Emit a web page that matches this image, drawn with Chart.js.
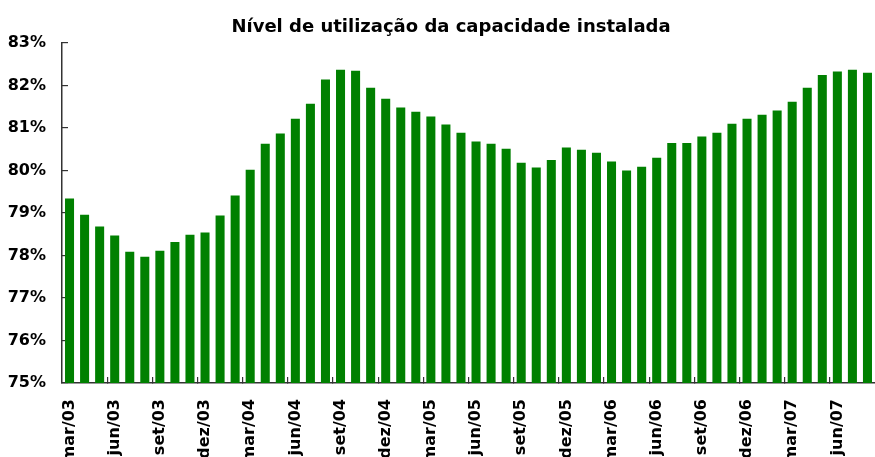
<!DOCTYPE html>
<html>
<head>
<meta charset="utf-8">
<title>Nível de utilização da capacidade instalada</title>
<script src="https://cdn.jsdelivr.net/npm/chart.js@4.4.1/dist/chart.umd.min.js"></script>
<style>
  html, body { margin: 0; padding: 0; background: #fff; }
  canvas { display: block; }
</style>
</head>
<body>
<canvas id="nuciChart" width="875" height="457"></canvas>
<script>
// months shown on the x axis (mar/03 .. ago/07)
const months = [
  'mar/03', 'abr/03', 'mai/03', 'jun/03', 'jul/03', 'ago/03', 'set/03', 'out/03', 'nov/03', 'dez/03',
  'jan/04', 'fev/04', 'mar/04', 'abr/04', 'mai/04', 'jun/04', 'jul/04', 'ago/04', 'set/04', 'out/04', 'nov/04', 'dez/04',
  'jan/05', 'fev/05', 'mar/05', 'abr/05', 'mai/05', 'jun/05', 'jul/05', 'ago/05', 'set/05', 'out/05', 'nov/05', 'dez/05',
  'jan/06', 'fev/06', 'mar/06', 'abr/06', 'mai/06', 'jun/06', 'jul/06', 'ago/06', 'set/06', 'out/06', 'nov/06', 'dez/06',
  'jan/07', 'fev/07', 'mar/07', 'abr/07', 'mai/07', 'jun/07', 'jul/07', 'ago/07',
];

// capacity utilisation, %
const utilizacao = [
  79.34, 78.96, 78.68, 78.47, 78.09, 77.97, 78.11, 78.32, 78.49, 78.54,
  78.94, 79.41, 80.02, 80.63, 80.87, 81.22, 81.57, 82.14, 82.37, 82.35,
  81.95, 81.69, 81.48, 81.38, 81.27, 81.08, 80.89, 80.68, 80.63, 80.51,
  80.18, 80.07, 80.25, 80.54, 80.49, 80.42, 80.21, 80.00, 80.09, 80.30,
  80.65, 80.65, 80.80, 80.89, 81.10, 81.22, 81.31, 81.41, 81.62, 81.95,
  82.25, 82.33, 82.37, 82.30,
];

const yMin = 75;
const yMax = 83;
const labelEvery = 3;

// the original text is wide for its height; DejaVu Sans Bold fits its extent best
const FONT = "'DejaVu Sans', 'Liberation Sans', Arial, sans-serif";
const AXIS = '#333333';

// title is centred a bit right of the canvas middle in the original
const shiftTitle = {
  id: 'shiftTitle',
  afterLayout(chart) {
    if (chart.titleBlock) chart.titleBlock.left = 27;
  },
};

// eslint-disable-next-line no-undef
new Chart(document.getElementById('nuciChart'), {
  type: 'bar',
  data: {
    labels: months,
    datasets: [
      {
        label: 'Utilização (%)',
        data: utilizacao,
        backgroundColor: '#008000',
        borderWidth: 0,
        barPercentage: 0.6,
        categoryPercentage: 1.0,
      },
    ],
  },
  options: {
    responsive: false,
    animation: false,
    layout: { padding: 0 },
    plugins: {
      legend: { display: false },
      tooltip: { enabled: false },
      title: {
        display: true,
        text: 'Nível de utilização da capacidade instalada',
        color: '#000',
        font: { family: FONT, size: 18, weight: 'bold' },
        padding: { top: 17, bottom: 4.4 },
      },
    },
    scales: {
      x: {
        offset: true,
        grid: {
          offset: true,
          drawOnChartArea: false,
          tickLength: -6,
          lineWidth: 1.2,
          color: (ctx) => (ctx.index > 0 && ctx.index % labelEvery === 0 ? AXIS : 'rgba(0,0,0,0)'),
        },
        border: { display: true, color: AXIS, width: 1.5 },
        ticks: {
          autoSkip: false,
          minRotation: 90,
          maxRotation: 90,
          padding: 22,
          color: '#000',
          font: { family: FONT, size: 16, weight: 'bold' },
          callback: (v, i) => (i % labelEvery === 0 ? months[i] : ''),
        },
        afterFit(scale) {
          scale.height = 74;
          scale.paddingLeft = 0;
          scale.paddingRight = 0;
        },
      },
      y: {
        min: yMin,
        max: yMax,
        grid: {
          drawOnChartArea: false,
          tickLength: -6,
          lineWidth: 1.2,
          color: AXIS,
        },
        border: { display: true, color: AXIS, width: 1.5 },
        ticks: {
          stepSize: 1,
          padding: 22,
          color: '#000',
          font: { family: FONT, size: 16, weight: 'bold' },
          callback: (v) => `${v}%`,
        },
        afterFit(scale) {
          scale.width = 62;
          scale.paddingTop = 0;
          scale.paddingBottom = 0;
        },
      },
    },
  },
  plugins: [shiftTitle],
});
</script>
</body>
</html>
